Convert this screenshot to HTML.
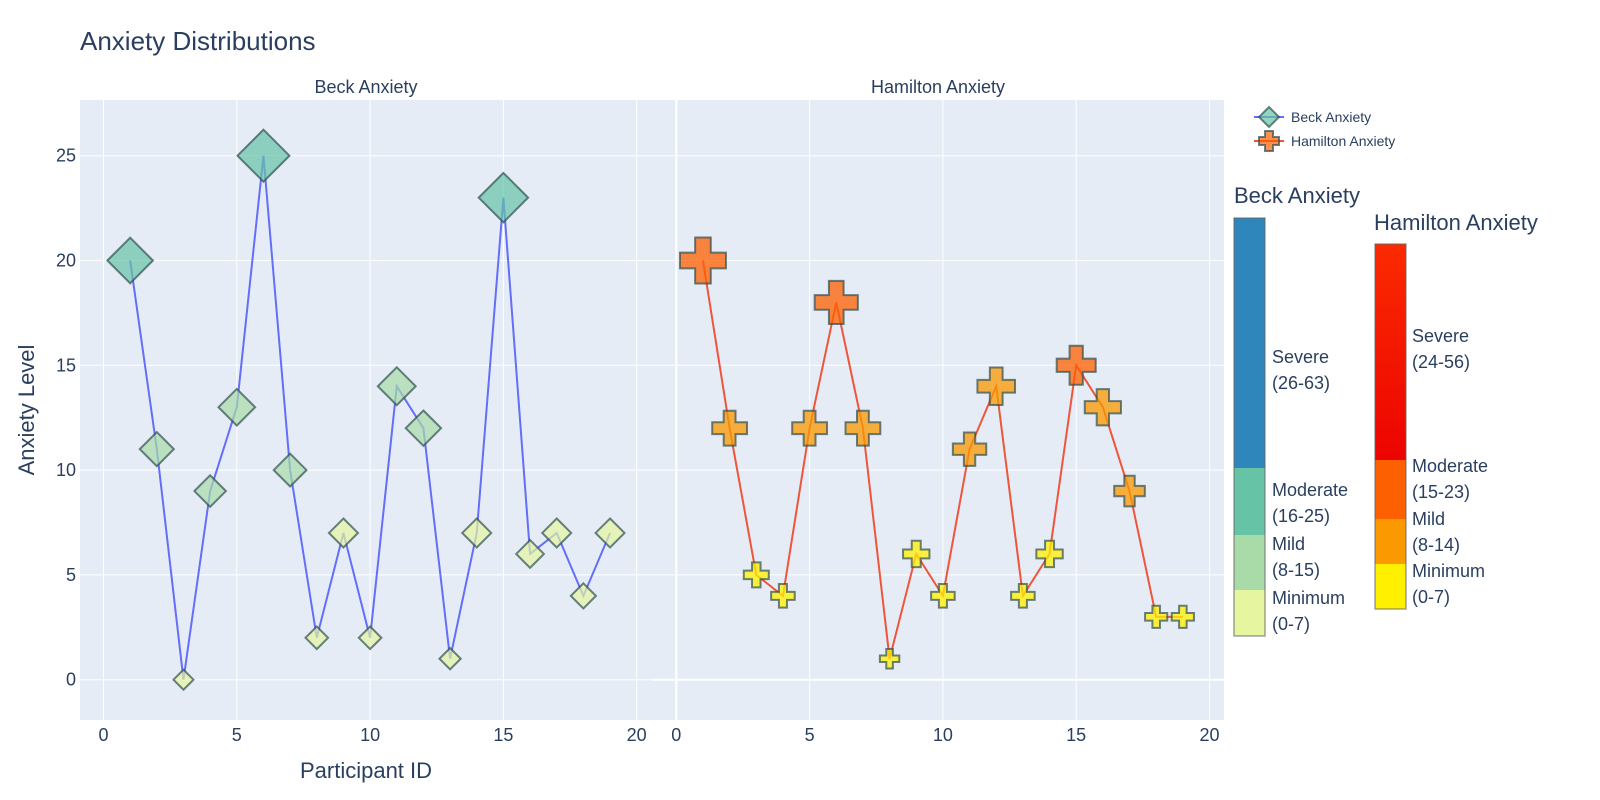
<!DOCTYPE html>
<html><head><meta charset="utf-8"><style>
body{margin:0;background:#fff;}
svg{font-family:"Liberation Sans",sans-serif;}
</style></head><body>
<svg id="chart" width="1600" height="800" style="position:absolute;left:0;top:0">
<text x="80" y="50" font-size="26" fill="#2a3f5f">Anxiety Distributions</text>
<g id="plots"></g>
</svg>
<script>
const participantIds=[1,2,3,4,5,6,7,8,9,10,11,12,13,14,15,16,17,18,19];
const beckValues=[20,11,0,9,13,25,10,2,7,2,14,12,1,7,23,6,7,4,7];
const hamiltonValues=[20,12,5,4,12,18,12,1,6,4,11,14,4,6,15,13,9,3,3];
const xTicks=[0,5,10,15,20];
const yTicks=[0,5,10,15,20,25];
const beckThresholds=[8,16,26];
const beckColors=['#e5f5a0','#a8dba8','#67c3a6','#2e86bb'];
const hamThresholds=[8,15,24];
const hamColors=['#fff000','#fa9a00','#fd6000','#f51a00'];

const NS='http://www.w3.org/2000/svg';
const chartSvg=document.getElementById('chart');
const plotsG=document.getElementById('plots');
function el(t,a,p){const e=document.createElementNS(NS,t);for(const k in a)e.setAttribute(k,a[k]);(p||plotsG).appendChild(e);return e;}
const plotTop=100,plotBot=720;
const yScale=v=>679.7-v*20.96;
const panels=[{x0:80,x1:652,zero:103.5,title:'Beck Anxiety',vals:beckValues,line:'#636efa',th:beckThresholds,cols:beckColors,shape:'diamond'},
{x0:652,x1:1224,zero:676.3,title:'Hamilton Anxiety',vals:hamiltonValues,line:'#ef553b',th:hamThresholds,cols:hamColors,shape:'cross'}];
function colorFor(v,th,cols){let i=0;while(i<th.length&&v>=th[i])i++;return cols[i];}
panels.forEach((p,pi)=>{
  const xs=v=>p.zero+v*26.66;
  const bg=el('rect',{x:p.x0,y:plotTop,width:p.x1-p.x0,height:plotBot-plotTop,fill:'#e5ecf6'});
  
  
  yTicks.forEach(t=>{
    const l=el('line',{x1:p.x0,x2:p.x1,y1:yScale(t),y2:yScale(t),stroke:'#fff','stroke-width':t===0&&pi?2:1});
    
    
    if(pi===0){const tx=el('text',{x:76,y:yScale(t)+6,'text-anchor':'end','font-size':18,fill:'#2a3f5f'});tx.textContent=t;
      
      }
  });
  xTicks.forEach(t=>{
    const l=el('line',{x1:xs(t),x2:xs(t),y1:plotTop,y2:plotBot,stroke:'#fff','stroke-width':t===0&&pi?2:1});
    
    
    const tx=el('text',{x:xs(t),y:741,'text-anchor':'middle','font-size':18,fill:'#2a3f5f'});tx.textContent=t;
    
    
  });
  const st=el('text',{x:(p.x0+p.x1)/2,y:93,'text-anchor':'middle','font-size':18,fill:'#2a3f5f'});st.textContent=p.title;
  
  
  const pts=participantIds.map((id,i)=>xs(id)+','+yScale(p.vals[i])).join(' ');
  const pl=el('polyline',{points:pts,fill:'none',stroke:p.line,'stroke-width':2});
  
  
  participantIds.forEach((id,i)=>{
    const v=p.vals[i],cx=xs(id),cy=yScale(v);
    let m;
    if(p.shape==='diamond'){const r=(20+1.28*v)/2;
      m=el('polygon',{points:`${cx},${cy-r} ${cx+r},${cy} ${cx},${cy+r} ${cx-r},${cy}`});
    }else{const r=(18+1.4*v)/2,a=r*0.34;
      m=el('polygon',{points:`${cx-a},${cy-r} ${cx+a},${cy-r} ${cx+a},${cy-a} ${cx+r},${cy-a} ${cx+r},${cy+a} ${cx+a},${cy+a} ${cx+a},${cy+r} ${cx-a},${cy+r} ${cx-a},${cy+a} ${cx-r},${cy+a} ${cx-r},${cy-a} ${cx-a},${cy-a}`});}
    m.setAttribute('fill',colorFor(v,p.th,p.cols));
    m.setAttribute('fill-opacity',pi?0.75:0.7);
    m.setAttribute('stroke','#2f4f4f');m.setAttribute('stroke-opacity',0.7);m.setAttribute('stroke-width',2);
    
    
  });
});
</script>
<svg width="1600" height="800" style="position:absolute;left:0;top:0">
<g font-family="Liberation Sans, sans-serif" fill="#2a3f5f">
<text x="366" y="778" text-anchor="middle" font-size="22">Participant ID</text>
<text transform="translate(34,410) rotate(-90)" text-anchor="middle" font-size="22">Anxiety Level</text>
<g>
<line x1="1254" x2="1284" y1="117" y2="117" stroke="#636efa" stroke-width="2"/>
<polygon points="1269,107 1279,117 1269,127 1259,117" fill="#67c3a6" fill-opacity="0.7" stroke="#2f4f4f" stroke-opacity="0.7" stroke-width="2"/>
<text x="1291" y="122" font-size="14">Beck Anxiety</text>
<line x1="1254" x2="1284" y1="141" y2="141" stroke="#ef553b" stroke-width="2"/>
<polygon points="1265,131 1273,131 1273,137 1279,137 1279,145 1273,145 1273,151 1265,151 1265,145 1259,145 1259,137 1265,137" fill="#fd6000" fill-opacity="0.7" stroke="#2f4f4f" stroke-opacity="0.7" stroke-width="2"/>
<text x="1291" y="146" font-size="14">Hamilton Anxiety</text>
</g>
<g>
<text x="1234" y="203" font-size="22">Beck Anxiety</text>
<rect x="1234" y="218" width="31" height="250" fill="#2e86bb"/>
<rect x="1234" y="468" width="31" height="67" fill="#67c3a6"/>
<rect x="1234" y="535" width="31" height="55" fill="#a8dba8"/>
<rect x="1234" y="590" width="31" height="46" fill="#e5f5a0"/>
<rect x="1234" y="218" width="31" height="418" fill="none" stroke="#666" stroke-opacity="0.6" stroke-width="1.5"/>
<g font-size="18">
<text x="1272" y="363">Severe</text><text x="1272" y="389">(26-63)</text>
<text x="1272" y="496">Moderate</text><text x="1272" y="522">(16-25)</text>
<text x="1272" y="550">Mild</text><text x="1272" y="576">(8-15)</text>
<text x="1272" y="604">Minimum</text><text x="1272" y="630">(0-7)</text>
</g></g>
<g>
<text x="1374" y="230" font-size="22">Hamilton Anxiety</text>
<defs><linearGradient id="sev" x1="0" y1="0" x2="0" y2="1"><stop offset="0" stop-color="#fb2a00"/><stop offset="1" stop-color="#ec0400"/></linearGradient></defs>
<rect x="1375" y="244" width="31" height="216" fill="url(#sev)"/>
<rect x="1375" y="460" width="31" height="59" fill="#fd6000"/>
<rect x="1375" y="519" width="31" height="45" fill="#fa9a00"/>
<rect x="1375" y="564" width="31" height="45" fill="#fff000"/>
<rect x="1375" y="244" width="31" height="365" fill="none" stroke="#666" stroke-opacity="0.6" stroke-width="1.5"/>
<g font-size="18">
<text x="1412" y="342">Severe</text><text x="1412" y="368">(24-56)</text>
<text x="1412" y="472">Moderate</text><text x="1412" y="498">(15-23)</text>
<text x="1412" y="525">Mild</text><text x="1412" y="551">(8-14)</text>
<text x="1412" y="577">Minimum</text><text x="1412" y="603">(0-7)</text>
</g></g>
</g></svg>
</body></html>
